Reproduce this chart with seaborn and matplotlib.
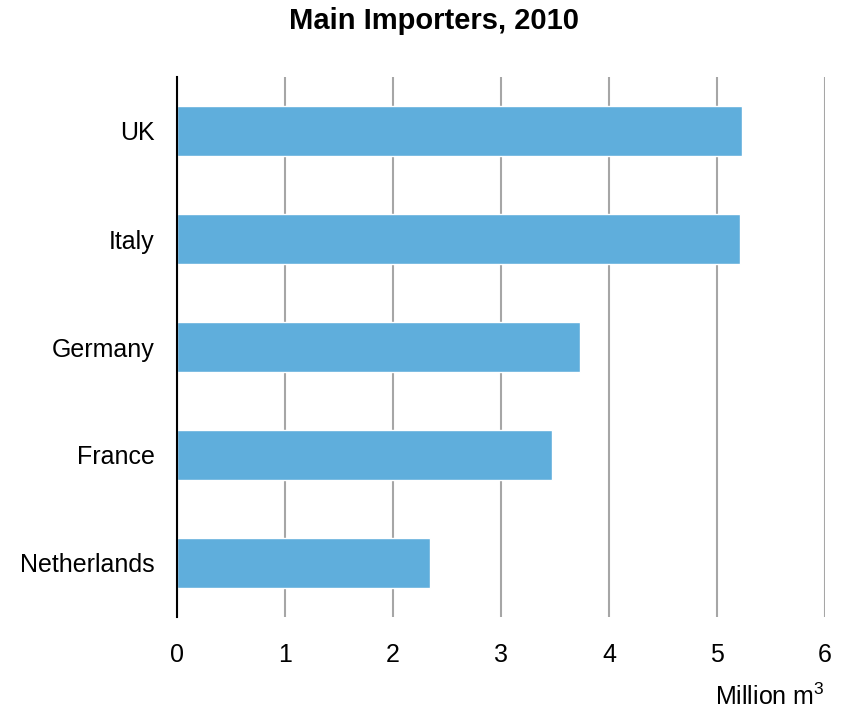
import matplotlib
matplotlib.use("Agg")
import matplotlib.pyplot as plt
import seaborn as sns
import pandas as pd

countries = ["UK", "Italy", "Germany", "France", "Netherlands"]
imports_mm3 = [5.23, 5.21, 3.73, 3.47, 2.34]
x_ticks = [0, 1, 2, 3, 4, 5, 6]

sns.set_theme(style="white")
plt.rcParams["font.family"] = ["Liberation Sans", "DejaVu Sans"]
plt.rcParams["mathtext.default"] = "regular"

df = pd.DataFrame({"country": countries, "value": imports_mm3})

fig = plt.figure(figsize=(8.42, 7.12), dpi=100)
ax = fig.add_axes([177 / 842, 1 - 617 / 712, (825 - 177) / 842, (617 - 77) / 712])

sns.barplot(data=df, y="country", x="value", orient="h", color="#5FAEDC",
            saturation=1, width=0.46, ax=ax, zorder=3)

ax.set_xlim(0, 6)
ax.set_ylim(4.5, -0.5)
ax.set_xticks(x_ticks)
ax.set_xticklabels([str(t) for t in x_ticks])
ax.grid(axis="x", color="#A6A6A6", linewidth=1.5, zorder=0)
ax.grid(axis="y", visible=False)
ax.set_axisbelow(True)

for s in ["top", "right", "bottom"]:
    ax.spines[s].set_visible(False)
ax.spines["left"].set_color("black")
ax.spines["left"].set_linewidth(1.5)
ax.spines["left"].set_zorder(4)

ax.tick_params(axis="x", length=0, pad=19, labelsize=18, colors="black")
ax.tick_params(axis="y", length=0, pad=16, labelsize=18, colors="black")
ax.set_ylabel("")
ax.set_xlabel("Million m$^3$", fontsize=18, loc="right", labelpad=12, color="black")

fig.text(0.515, 1 - 29 / 712, "Main Importers, 2010", ha="center", va="baseline",
         fontsize=21, fontweight="bold", color="black")

fig.savefig("out.png", dpi=100, facecolor="white")
